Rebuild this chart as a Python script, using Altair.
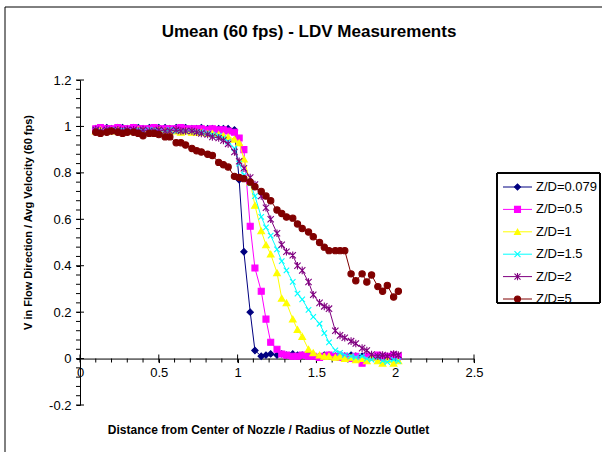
import altair as alt
import pandas as pd

# Radial positions (distance / nozzle radius) shared by every traverse
distance = [
    0.10, 0.13, 0.17, 0.20, 0.24, 0.27, 0.30, 0.34, 0.37, 0.40,
    0.44, 0.47, 0.50, 0.54, 0.57, 0.61, 0.64, 0.67, 0.71, 0.74,
    0.77, 0.81, 0.84, 0.88, 0.91, 0.94, 0.98, 1.01, 1.04, 1.08,
    1.11, 1.15, 1.18, 1.21, 1.25, 1.28, 1.31, 1.35, 1.38, 1.41,
    1.45, 1.48, 1.52, 1.55, 1.58, 1.62, 1.65, 1.68, 1.72, 1.75,
    1.79, 1.82, 1.85, 1.89, 1.92, 1.95, 1.99, 2.02,
]

# Normalised mean velocity for each axial station Z/D
v_zd_0079 = [
    0.99, 0.99, 0.995, 0.99, 0.995, 0.995, 0.99, 0.995, 0.995, 0.99,
    0.995, 0.99, 0.995, 0.995, 0.99, 0.995, 0.99, 0.995, 0.99, 0.99,
    0.995, 0.99, 0.99, 0.99, 0.99, 0.99, 0.985, 0.77, 0.46, 0.20,
    0.035, 0.01, 0.015, 0.02, 0.015, 0.02, 0.015, 0.02, 0.015, 0.015,
    0.02, 0.015, 0.01, 0.015, 0.015, 0.01, 0.015, 0.01, 0.015, 0.01,
    0.01, 0.005, 0.01, 0.005, 0.005, 0.0, 0.005, 0.0,
]
v_zd_05 = [
    0.99, 0.995, 0.99, 0.99, 0.995, 0.99, 0.99, 0.995, 0.99, 0.99,
    0.99, 0.995, 0.99, 0.99, 0.99, 0.99, 0.995, 0.99, 0.99, 0.99,
    0.99, 0.985, 0.99, 0.985, 0.985, 0.98, 0.975, 0.95, 0.90, 0.57,
    0.39, 0.29, 0.17, 0.07, 0.04, 0.02, 0.015, 0.01, 0.01, 0.015,
    0.01, 0.01, 0.005, 0.01, 0.015, 0.01, 0.005, 0.01, 0.0, 0.01,
    -0.02, 0.01, 0.005, 0.015, 0.005, 0.01, 0.015, 0.01,
]
v_zd_1 = [
    0.98, 0.985, 0.98, 0.98, 0.985, 0.98, 0.98, 0.98, 0.985, 0.98,
    0.98, 0.98, 0.985, 0.98, 0.98, 0.98, 0.975, 0.98, 0.975, 0.975,
    0.975, 0.97, 0.97, 0.965, 0.96, 0.955, 0.945, 0.93, 0.86, 0.76,
    0.66, 0.55, 0.49, 0.45, 0.37, 0.26, 0.24, 0.17, 0.125, 0.095,
    0.04, 0.025, 0.015, 0.01, 0.01, 0.005, 0.01, 0.0, 0.005, -0.005,
    0.0, -0.01, 0.005, -0.01, -0.02, -0.005, -0.02, -0.01,
]
v_zd_15 = [
    0.985, 0.98, 0.985, 0.985, 0.98, 0.985, 0.985, 0.98, 0.985, 0.98,
    0.985, 0.985, 0.98, 0.98, 0.985, 0.98, 0.98, 0.98, 0.98, 0.975,
    0.975, 0.97, 0.965, 0.96, 0.95, 0.935, 0.905, 0.84, 0.79, 0.755,
    0.70, 0.61, 0.565, 0.53, 0.47, 0.42, 0.38, 0.33, 0.28, 0.255,
    0.21, 0.18, 0.15, 0.11, 0.07, 0.035, 0.025, 0.015, 0.01, 0.005,
    0.01, 0.0, -0.005, 0.005, -0.01, -0.015, -0.005, -0.01,
]
v_zd_2 = [
    0.985, 0.98, 0.985, 0.98, 0.985, 0.98, 0.985, 0.985, 0.98, 0.985,
    0.98, 0.98, 0.985, 0.98, 0.98, 0.985, 0.98, 0.98, 0.98, 0.975,
    0.97, 0.965, 0.955, 0.95, 0.94, 0.925, 0.89, 0.85, 0.82, 0.78,
    0.75, 0.70, 0.65, 0.60, 0.54, 0.49, 0.46, 0.445, 0.40, 0.38,
    0.33, 0.275, 0.24, 0.225, 0.215, 0.12, 0.10, 0.09, 0.075, 0.065,
    0.045, 0.035, 0.017, 0.01, 0.015, 0.01, 0.02, 0.015,
]
v_zd_5 = [
    0.975, 0.97, 0.975, 0.98, 0.975, 0.97, 0.975, 0.975, 0.97, 0.96,
    0.97, 0.97, 0.965, 0.955, 0.955, 0.93, 0.93, 0.92, 0.905, 0.895,
    0.89, 0.88, 0.875, 0.845, 0.835, 0.825, 0.785, 0.78, 0.775, 0.76,
    0.74, 0.72, 0.70, 0.68, 0.64, 0.625, 0.61, 0.605, 0.58, 0.56,
    0.545, 0.525, 0.50, 0.48, 0.465, 0.465, 0.465, 0.465, 0.365, 0.335,
    0.365, 0.33, 0.36, 0.31, 0.29, 0.315, 0.265, 0.29,
]

series_names = ["Z/D=0.079", "Z/D=0.5", "Z/D=1", "Z/D=1.5", "Z/D=2", "Z/D=5"]
series_values = [v_zd_0079, v_zd_05, v_zd_1, v_zd_15, v_zd_2, v_zd_5]
series_colors = ["#000080", "#FF00FF", "#FFFF00", "#00FFFF", "#800080", "#800000"]
X_SHAPE = "M-1,-1L1,1M-1,1L1,-1"
STAR_SHAPE = "M-1,-1L1,1M-1,1L1,-1M0,-1.2L0,1.2"
series_shapes = ["diamond", "square", "triangle-up", X_SHAPE, STAR_SHAPE, "circle"]
marker_sizes = [40, 36, 45, 30, 40, 40]

# Excel-style axis ticks
x_major = [0, 0.5, 1, 1.5, 2, 2.5]
x_minor = [0.1, 0.2, 0.3, 0.4, 0.6, 0.7, 0.8, 0.9, 1.1, 1.2, 1.3, 1.4,
           1.6, 1.7, 1.8, 1.9, 2.1, 2.2, 2.3, 2.4]
y_major = [-0.2, 0, 0.2, 0.4, 0.6, 0.8, 1, 1.2]
y_minor = [-0.16, -0.12, -0.08, -0.04, 0.04, 0.08, 0.12, 0.16,
           0.24, 0.28, 0.32, 0.36, 0.44, 0.48, 0.52, 0.56,
           0.64, 0.68, 0.72, 0.76, 0.84, 0.88, 0.92, 0.96,
           1.04, 1.08, 1.12, 1.16]

W, H = 394, 325
X_DOMAIN = [0, 2.5]
Y_DOMAIN = [-0.2, 1.2]
FONT = "Liberation Sans"

rows = []
for name, vals in zip(series_names, series_values):
    for d, v in zip(distance, vals):
        rows.append({"series": name, "distance": d, "v": v})
df = pd.DataFrame(rows)

x_scale = alt.Scale(domain=X_DOMAIN, nice=False, zero=False)
y_scale = alt.Scale(domain=Y_DOMAIN, nice=False, zero=False)

# the category axis crosses the value axis at v = 0
zero_offset = -H * (0 - Y_DOMAIN[0]) / (Y_DOMAIN[1] - Y_DOMAIN[0])

x_axis = alt.Axis(
    values=x_major, format="~g", labelFlush=False, labelOverlap=False,
    tickSize=4, tickColor="black", domainColor="black", labelColor="black",
    labelFont=FONT, labelFontSize=13, labelPadding=4, offset=zero_offset,
    grid=False,
    title="Distance from Center of Nozzle / Radius of Nozzle Outlet",
    titleFont=FONT, titleFontSize=12, titleFontWeight="bold", titleColor="black",
    titleX=188, titleY=71, titleBaseline="middle", titleAlign="center",
)
y_axis = alt.Axis(
    values=y_major,
    labelExpr="datum.value < 0 ? '-' + format(-datum.value, '~g') : format(datum.value, '~g')",
    labelFlush=False, labelOverlap=False,
    tickSize=4, tickColor="black", domainColor="black", labelColor="black",
    labelFont=FONT, labelFontSize=13, labelPadding=5, grid=False,
    title="V in Flow Direction / Avg Velocity (60 fps)",
    titleFont=FONT, titleFontSize=11, titleFontWeight="bold", titleColor="black",
    titleX=-52, titleY=142, titleBaseline="middle", titleAlign="center", titleAngle=-90,
)

one_row = pd.DataFrame({"k": [0]})

# outer chart-area border
frame = alt.Chart(one_row).mark_rect(
    fillOpacity=0, stroke="black", strokeWidth=1
).encode(x=alt.value(-75), x2=alt.value(700), y=alt.value(-73), y2=alt.value(600))

# crossing major ticks and outside minor ticks
tick_layers = [
    alt.Chart(pd.DataFrame({"t": x_major, "z": 0})).mark_tick(
        orient="vertical", size=8, thickness=1, color="black", opacity=1
    ).encode(x=alt.X("t:Q", scale=x_scale, axis=x_axis),
             y=alt.Y("z:Q", scale=y_scale, axis=y_axis)),
    alt.Chart(pd.DataFrame({"t": x_minor, "z": 0})).mark_tick(
        orient="vertical", size=4, thickness=1, color="black", opacity=1, yOffset=2
    ).encode(x=alt.X("t:Q", scale=x_scale, axis=x_axis),
             y=alt.Y("z:Q", scale=y_scale, axis=y_axis)),
    alt.Chart(pd.DataFrame({"t": y_major, "z": 0})).mark_tick(
        orient="horizontal", size=8, thickness=1, color="black", opacity=1
    ).encode(y=alt.Y("t:Q", scale=y_scale, axis=y_axis),
             x=alt.X("z:Q", scale=x_scale, axis=x_axis)),
    alt.Chart(pd.DataFrame({"t": y_minor, "z": 0})).mark_tick(
        orient="horizontal", size=4, thickness=1, color="black", opacity=1, xOffset=-2
    ).encode(y=alt.Y("t:Q", scale=y_scale, axis=y_axis),
             x=alt.X("z:Q", scale=x_scale, axis=x_axis)),
]

data_layers = []
for name, color, shape, size in zip(series_names, series_colors, series_shapes, marker_sizes):
    base = alt.Chart(df).transform_filter(alt.datum.series == name).encode(
        x=alt.X("distance:Q", scale=x_scale, axis=x_axis),
        y=alt.Y("v:Q", scale=y_scale, axis=y_axis),
        order="distance:Q",
    )
    data_layers.append(base.mark_line(color=color, strokeWidth=1))
    data_layers.append(base.mark_point(
        shape=shape, size=size, filled=True, fill=color, stroke=color,
        strokeWidth=1.1, opacity=1,
    ))

plot = alt.layer(frame, *tick_layers, *data_layers)

# legend panel
legend_df = pd.DataFrame({"label": series_names})
color_scale = alt.Scale(domain=series_names, range=series_colors)
legend_y = alt.Y("label:N", scale=alt.Scale(type="point", domain=series_names,
                                            range=[107, 219], padding=0), axis=None)

legend_box = alt.Chart(legend_df).mark_rect(
    fillOpacity=0, stroke="black", strokeWidth=1
).encode(x=alt.value(417), x2=alt.value(520), y=alt.value(93), y2=alt.value(223))
legend_lines = alt.Chart(legend_df).mark_rule(strokeWidth=1).encode(
    x=alt.value(423), x2=alt.value(452), y=legend_y,
    color=alt.Color("label:N", scale=color_scale, legend=None),
)
legend_marks = alt.Chart(legend_df).mark_point(
    filled=True, opacity=1, strokeWidth=1.1, size=36
).encode(
    x=alt.value(437.5), y=legend_y,
    fill=alt.Fill("label:N", scale=color_scale, legend=None),
    stroke=alt.Stroke("label:N", scale=color_scale, legend=None),
    shape=alt.Shape("label:N", scale=alt.Scale(domain=series_names, range=series_shapes), legend=None),
)
legend_text = alt.Chart(legend_df).mark_text(
    align="left", baseline="middle", font=FONT, fontSize=13, color="black"
).encode(x=alt.value(456), y=legend_y, text="label:N")
legend = alt.layer(legend_lines, legend_marks, legend_text)

chart = alt.layer(plot, legend, legend_box).resolve_scale(
    y="independent"
).properties(
    width=W, height=H,
    autosize="none",
    padding={"left": 80, "top": 80, "right": 128, "bottom": 47},
    background="white",
    title=alt.TitleParams(
        "Umean (60 fps) - LDV Measurements", font=FONT, fontSize=17,
        fontWeight="bold", color="black", anchor="middle", frame="group",
        offset=-34, dx=32,
    ),
).configure_view(stroke=None)

chart.save("out.html", embed_options={"renderer": "svg", "actions": False})
